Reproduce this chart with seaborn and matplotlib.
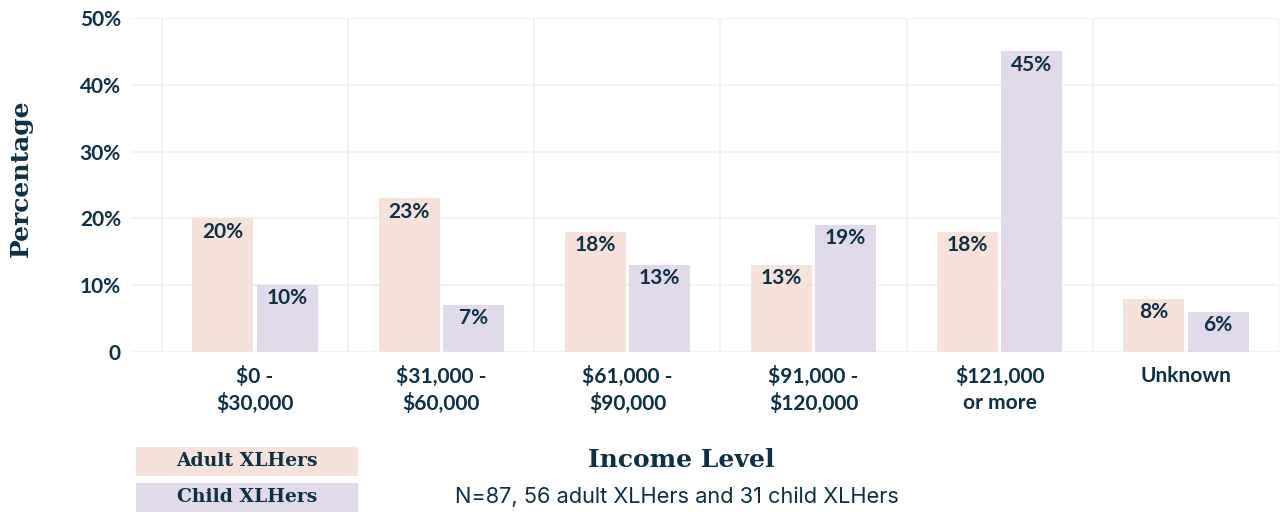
import pandas as pd
import matplotlib.pyplot as plt
import seaborn as sns
from matplotlib.patches import Rectangle

# Data
income_levels = ['$0 -\n$30,000', '$31,000 -\n$60,000', '$61,000 -\n$90,000',
                 '$91,000 -\n$120,000', '$121,000\nor more', 'Unknown']
adult_pct = [20, 23, 18, 13, 18, 8]
child_pct = [10, 7, 13, 19, 45, 6]
groups = ['Adult XLHers', 'Child XLHers']

adult_color = '#f6e2da'
child_color = '#e1daeb'
text_color = '#0d3045'

df = pd.DataFrame({
    'Income Level': income_levels * 2,
    'Percentage': adult_pct + child_pct,
    'Group': [groups[0]] * len(income_levels) + [groups[1]] * len(income_levels),
})
df['Income Level'] = pd.Categorical(df['Income Level'], categories=income_levels, ordered=True)

sns.set_style('white')
plt.rcParams['font.family'] = ['Lato', 'DejaVu Sans']

fig = plt.figure(figsize=(12.83, 5.12), dpi=100)
ax = fig.add_axes([132 / 1283, 1 - 352 / 512, 1147 / 1283, 334 / 512])

sns.barplot(
    data=df,
    x='Income Level',
    y='Percentage',
    hue='Group',
    palette={groups[0]: adult_color, groups[1]: child_color},
    width=0.69,
    gap=0.05,
    saturation=1,
    linewidth=0,
    legend=False,
    ax=ax,
)

# Axis ranges and grid
ax.set_ylim(0, 50)
ax.set_xlim(-0.661, 5.5)
ax.set_yticks([0, 10, 20, 30, 40, 50])
ax.set_yticklabels(['0', '10%', '20%', '30%', '40%', '50%'])
ax.set_xticks([i - 0.5 for i in range(len(income_levels) + 1)], minor=True)
ax.grid(True, axis='y', which='major', color='#f2f2f2', linewidth=1.5)
ax.grid(True, axis='x', which='minor', color='#f2f2f2', linewidth=1.5)
ax.grid(False, axis='x', which='major')
ax.set_axisbelow(True)
for s in ax.spines.values():
    s.set_visible(False)
ax.tick_params(axis='both', which='both', length=0)
ax.tick_params(axis='y', pad=8)
ax.tick_params(axis='x', pad=10)
ax.set_xlabel('')
ax.set_ylabel('')

for lab in ax.get_yticklabels():
    lab.set_fontsize(15)
    lab.set_fontweight('bold')
    lab.set_color(text_color)
for lab in ax.get_xticklabels():
    lab.set_fontsize(15)
    lab.set_fontweight('bold')
    lab.set_color(text_color)
    lab.set_linespacing(1.35)

# Value labels inside the top of each bar
for p in ax.patches:
    if p.get_height() <= 0:
        continue
    ax.annotate(f"{p.get_height():.0f}%",
                (p.get_x() + p.get_width() / 2., p.get_height()),
                ha='center', va='center',
                xytext=(0, -9.5), textcoords='offset points',
                fontsize=15, fontweight='bold', color=text_color)

# Axis titles
fig.text(21 / 1283, 1 - 178 / 512, 'Percentage', rotation=90, ha='center', va='center',
         family='DejaVu Serif', fontsize=18, fontweight='bold', color=text_color)
fig.text(681 / 1283, 1 - 460 / 512, 'Income Level', ha='center', va='center',
         family='DejaVu Serif', fontsize=18, fontweight='bold', color=text_color)

# Legend as coloured boxes with the label inside
for i, (name, col) in enumerate(zip(groups, [adult_color, child_color])):
    y0 = 1 - (476 + 36 * i) / 512
    fig.patches.append(Rectangle((136 / 1283, y0), 222 / 1283, 29 / 512,
                                 transform=fig.transFigure, facecolor=col,
                                 edgecolor='none', zorder=0))
    fig.text(247 / 1283, y0 + 14.5 / 512, name, ha='center', va='center',
             family='DejaVu Serif', fontsize=13.5, fontweight='bold', color=text_color)

fig.text(455 / 1283, 1 - 497 / 512, 'N=87, 56 adult XLHers and 31 child XLHers',
         ha='left', va='center', family='Inter', fontsize=15.7, color=text_color)

plt.savefig('out.png', dpi=100)
